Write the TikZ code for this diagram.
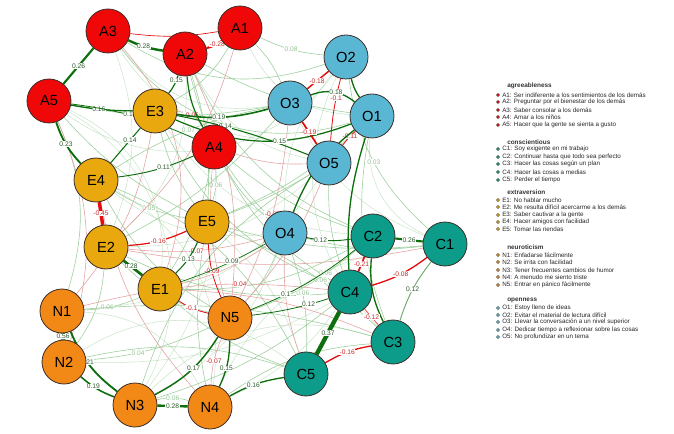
\documentclass[tikz,border=0pt]{standalone}
\usepackage{fontspec}
\setmainfont{Liberation Sans}
\usetikzlibrary{positioning}
\pgfdeclarelayer{bg}
\pgfsetlayers{bg,main}

\definecolor{agreecol}{RGB}{240,8,8}
\definecolor{extracol}{RGB}{232,168,14}
\definecolor{neurocol}{RGB}{242,137,22}
\definecolor{opencol}{RGB}{90,183,212}
\definecolor{conscol}{RGB}{14,156,138}
\definecolor{rimcol}{RGB}{60,45,40}
\definecolor{poscol}{RGB}{12,110,12}
\definecolor{negcol}{RGB}{228,12,12}
\definecolor{fposcol}{RGB}{160,208,160}
\definecolor{fnegcol}{RGB}{228,165,165}

\tikzset{
  item/.style={circle,draw=rimcol,line width=0.6pt,minimum size=33pt,inner sep=0pt,font=\fontsize{11}{11}\selectfont},
  poslink/.style={draw=poscol},
  neglink/.style={draw=negcol},
  fpos/.style={draw=fposcol,line width=0.45pt},
  fneg/.style={draw=fnegcol,line width=0.45pt},
  gpos/.style={draw=fposcol,line width=0.4pt,draw opacity=0.55},
  elab/.style={fill=white,inner sep=0.4pt,font=\fontsize{5}{5}\selectfont,text={rgb,255:red,45;green,90;blue,45}},
  nlab/.style={fill=white,inner sep=0.4pt,font=\fontsize{5}{5}\selectfont,text={rgb,255:red,200;green,40;blue,40}},
  flab/.style={fill=white,inner sep=0.4pt,font=\fontsize{5}{5}\selectfont,text={rgb,255:red,150;green,195;blue,150}},
  lghead/.style={anchor=west,inner sep=0pt,font=\fontsize{4.8}{5}\selectfont\bfseries,text=black!80},
  lgtext/.style={anchor=west,inner sep=0pt,font=\fontsize{4.7}{5}\selectfont,text=black!85},
  lgdot/.style={circle,draw=black!70,line width=0.2pt,minimum size=2.4pt,inner sep=0pt}
}

\begin{document}
\begin{tikzpicture}[x=0.75pt,y=0.75pt,yscale=-1,xscale=1]
\useasboundingbox (0,0) rectangle (674,434);

% agreeableness
\node [item,fill=agreecol] (A1) at (240,28) {A1};
\node [item,fill=agreecol] (A2) at (185,54) {A2};
\node [item,fill=agreecol] (A3) at (108,31) {A3};
\node [item,fill=agreecol] (A4) at (214,147) {A4};
\node [item,fill=agreecol] (A5) at (49,101) {A5};
% extraversion
\node [item,fill=extracol] (E1) at (160,289) {E1};
\node [item,fill=extracol] (E2) at (106,247) {E2};
\node [item,fill=extracol] (E3) at (155,111) {E3};
\node [item,fill=extracol] (E4) at (96,180) {E4};
\node [item,fill=extracol] (E5) at (207,222) {E5};
% neuroticism
\node [item,fill=neurocol] (N1) at (62,311) {N1};
\node [item,fill=neurocol] (N2) at (64,362) {N2};
\node [item,fill=neurocol] (N3) at (135,405) {N3};
\node [item,fill=neurocol] (N4) at (210,407) {N4};
\node [item,fill=neurocol] (N5) at (230,318) {N5};
% openness
\node [item,fill=opencol] (O1) at (372,116) {O1};
\node [item,fill=opencol] (O2) at (346,57) {O2};
\node [item,fill=opencol] (O3) at (290,103) {O3};
\node [item,fill=opencol] (O4) at (285,233) {O4};
\node [item,fill=opencol] (O5) at (329,163) {O5};
% conscientious
\node [item,fill=conscol] (C1) at (445,244) {C1};
\node [item,fill=conscol] (C2) at (373,236) {C2};
\node [item,fill=conscol] (C3) at (393,342) {C3};
\node [item,fill=conscol] (C4) at (350,292) {C4};
\node [item,fill=conscol] (C5) at (306,374) {C5};

\begin{pgfonlayer}{bg}
% weak edges
\draw [gpos] (A3) to[bend left=40] (O1);
\draw [gpos] (A5) to[bend left=45] (O2);
\draw [gpos] (A3) to[bend left=30] (O3);
\draw [gpos] (A5) to[bend right=45] (N3);
\draw [gpos] (A5) to[bend right=35] (E1);
\draw [gpos] (E4) to[bend right=35] (N4);
\draw [gpos] (N1) to[bend right=30] (N4);
\draw [gpos] (N2) to[bend right=35] (C5);
\draw [gpos] (N3) to[bend right=30] (C3);
\draw [gpos] (N4) to[bend right=30] (C1);
\draw [gpos] (O2) to[bend left=35] (C3);
\draw [gpos] (O1) to[bend left=35] (C1);
\draw [gpos] (A1) to[bend left=30] (O1);
\draw [gpos] (A2) to[bend left=25] (O5);
\draw [gpos] (E3) to[bend left=25] (C2);
\draw [gpos] (E4) to[bend left=20] (O4);
\draw [gpos] (E2) to[bend left=20] (O5);
\draw [gpos] (E1) to[bend left=20] (O5);
\draw [gpos] (N1) to[bend left=15] (O4);
\draw [gpos] (N2) to[bend left=15] (C4);
\draw [gpos] (N3) to[bend left=20] (O4);
\draw [gpos] (N4) to[bend left=20] (C2);
\draw [gpos] (A4) to[bend right=20] (N3);
\draw [gpos] (A2) to[bend right=25] (E2);
\draw [gpos] (A3) to[bend right=20] (E2);
\draw [gpos] (O3) to[bend left=20] (C1);
\draw [gpos] (O2) to[bend left=20] (O4);
\draw [gpos] (E5) to[bend right=15] (C5);
\draw [fpos] (A3) to[bend left=35] (O1);
\draw [fpos] (A3) to[bend left=25] (O2);
\draw [fpos] (A1) to[bend left=10] node[flab]{0.08} (O2);
\draw [fpos] (A1) to[bend right=10] (O3);
\draw [fpos] (A1) to[bend right=15] (E3);
\draw [fpos] (A2) to[bend left=10] (O1);
\draw [fpos] (A2) to[bend right=10] (E5);
\draw [fpos] (A2) to[bend left=20] (C2);
\draw [fpos] (A2) to[bend left=15] (O4);
\draw [fpos] (A5) to[bend left=10] (E5);
\draw [fpos] (A5) to[bend right=20] (N1);
\draw [fpos] (A4) to[bend left=10] (C2);
\draw [fpos] (A4) to[bend right=10] node[flab]{0.06} (E5);
\draw [fpos] (A4) to[bend left=15] (C4);
\draw [fpos] (A4) to[bend right=10] (E1);
\draw [fpos] (A4) to[bend left=10] (O4);
\draw [fpos] (E3) to[bend left=10] (E5);
\draw [fpos] (E3) to[bend left=20] (C4);
\draw [fpos] (E4) to[bend left=10] node[flab]{0.05} (E5);
\draw [fpos] (E4) to[bend left=15] (N5);
\draw [fpos] (E4) to[bend right=20] (C5);
\draw [fpos] (E2) to[bend right=15] (N2);
\draw [fpos] (E2) to[bend left=15] node[flab,pos=0.35]{0.05} (N5);
\draw [fpos] (E2) to[bend left=15] (C4);
\draw [fpos] (E1) to[bend left=10] (C5);
\draw [fpos] (E1) to[bend left=15] (C2);
\draw [fpos] (E5) to[bend left=10] (C1);
\draw [fpos] (E5) to[bend right=10] node[flab,pos=0.6]{0.06} (C3);
\draw [fpos] (E5) to[bend left=10] (O1);
\draw [fpos] (E5) to[bend left=5] (O5);
\draw [fpos] (E5) to[bend left=10] (N4);
\draw [fpos] (N1) to[bend left=10] node[flab,pos=0.4]{0.06} (E1);
\draw [fpos] (N1) to[bend right=10] (C3);
\draw [fpos] (N2) to[bend left=10] node[flab,pos=0.4]{0.04} (N5);
\draw [fpos] (N2) to[bend right=15] (C5);
\draw [fpos] (N3) to[bend right=15] node[flab]{0.06} (N4);
\draw [fpos] (N3) to[bend left=10] (C4);
\draw [fpos] (N4) to[bend right=15] (C3);
\draw [fpos] (N5) to[bend left=10] node[flab,pos=0.7]{0.06} (C2);
\draw [fpos] (N5) to[bend left=10] (O4);
\draw [fpos] (O4) to[bend right=10] node[flab,pos=0.4]{0.06} (C5);
\draw [fpos] (O4) to[bend left=10] (C1);
\draw [fpos] (O5) to[bend left=10] (C4);
\draw [fpos] (O5) to[bend left=20] (N3);
\draw [fpos] (O1) to[bend left=15] (C3);
\draw [fpos] (O2) to[bend left=20] node[flab]{0.03} (C1);
\draw [fpos] (O3) to[bend left=10] node[flab]{0.07} (E4);
\draw [fpos] (O3) to[bend right=10] (E2);
\draw [fpos] (A5) to[bend left=10] (O3);
\draw [fneg] (A4) to[bend left=10] (O5);
\draw [fneg] (A1) to[bend right=15] (E2);
\draw [fneg] (E2) to[bend left=10] node[nlab]{-0.07} (O4);
\draw [fneg] (E1) to[bend left=10] (O4);
\draw [fneg] (A4) to[bend left=10] node[nlab]{-0.08} (N5);
\draw [fneg] (N1) to[bend right=10] node[nlab,pos=0.65]{-0.04} (C4);
\draw [fneg] (E4) to[bend left=15] (N4);
\draw [fneg] (A5) to[bend right=20] (N2);
\draw [fneg] (E1) to[bend right=10] (C3);
\draw [fneg] (O3) to[bend right=10] node[nlab]{-0.07} (N5);
\draw [fneg] (O5) to[bend right=10] (N5);
\draw [fneg] (E2) to[bend left=10] (C1);
\draw [fneg] (O4) to[bend left=10] (C5);
\draw [fneg] (E3) to[bend right=30] node[nlab,pos=0.45]{-0.06} (A4);
\draw [fneg] (N5) to[bend left=10] node[nlab]{-0.07} (N4);
\draw [fneg] (A3) to[bend right=30] (E1);
\draw [fneg] (A2) to[bend right=15] (N5);
\draw [fneg] (E3) to[bend right=15] (N1);

% strong edges
\draw [neglink,line width=1.6pt] (A1) to[bend right=10] node[nlab,pos=0.3]{-0.28} (A2);
\draw [poslink,line width=1.8pt] (A3) to[bend left=8] node[elab,pos=0.45]{0.28} (A2);
\draw [neglink,line width=0.5pt] (A3) to[bend left=8] (A1);
\draw [poslink,line width=0.9pt] (A2) to[bend right=10] node[elab,pos=0.25]{0.15} (E3);
\draw [poslink,line width=1.6pt] (A3) to node[elab]{0.26} (A5);
\draw [poslink,line width=1.0pt] (A5) to[bend left=5] node[elab,pos=0.45]{0.16} (E3);
\draw [poslink,line width=0.6pt] (A5) to[bend right=8] node[elab,pos=0.45]{0.1} (A4);
\draw [poslink,line width=1.4pt] (A5) to[bend left=12] node[elab]{0.23} (E4);
\draw [poslink,line width=0.9pt] (A2) to[bend left=12] (A4);
\draw [poslink,line width=1.2pt] (E3) to[bend left=12] node[elab,pos=0.45]{0.19} (O3);
\draw [poslink,line width=0.8pt] (E3) to[bend right=5] node[elab,pos=0.35]{0.14} (O5);
\draw [poslink,line width=0.9pt] (E3) to[bend left=22] node[elab,pos=0.6]{0.15} (O1);
\draw [poslink,line width=0.8pt] (E4) to node[elab,pos=0.65]{0.14} (E3);
\draw [poslink,line width=0.7pt] (E4) to[bend left=8] node[elab,pos=0.6]{0.11} (A4);
\draw [neglink,line width=2.6pt] (E4) to node[nlab]{-0.45} (E2);
\draw [neglink,line width=0.9pt] (E2) to[bend left=10] node[nlab,pos=0.5]{-0.16} (E5);
\draw [poslink,line width=2.0pt] (E2) to node[elab,pos=0.4]{0.28} (E1);
\draw [poslink,line width=0.8pt] (E5) to[bend right=10] node[elab,pos=0.5]{0.13} (E1);
\draw [neglink,line width=0.6pt] (E5) to[bend left=10] node[nlab]{-0.09} (N5);
\draw [neglink,line width=0.6pt] (E1) to[bend left=10] node[nlab,pos=0.45]{-0.1} (N5);
\draw [poslink,line width=3.4pt] (N1) to node[elab]{0.56} (N2);
\draw [poslink,line width=1.4pt] (N1) to[bend left=15] node[elab,pos=0.45]{0.21} (N3);
\draw [poslink,line width=1.2pt] (N2) to[bend left=10] node[elab,pos=0.4]{0.19} (N3);
\draw [poslink,line width=1.1pt] (N5) to[bend right=15] node[elab,pos=0.45]{0.17} (N3);
\draw [poslink,line width=1.8pt] (N3) to node[elab]{0.28} (N4);
\draw [poslink,line width=1.0pt] (N5) to[bend right=12] node[elab,pos=0.6]{0.15} (N4);
\draw [poslink,line width=1.0pt] (N4) to[bend right=10] node[elab,pos=0.45]{0.16} (C5);
\draw [neglink,line width=1.1pt] (O2) to node[nlab,pos=0.55]{-0.18} (O3);
\draw [poslink,line width=1.0pt] (O2) to[bend left=10] (O1);
\draw [neglink,line width=0.6pt] (O2) to[bend left=5] node[nlab,pos=0.3]{-0.1} (O5);
\draw [poslink,line width=1.0pt] (O3) to[bend right=30] node[elab,pos=0.55]{0.18} (O1);
\draw [neglink,line width=1.3pt] (O3) to node[nlab,pos=0.45]{-0.19} (O5);
\draw [neglink,line width=0.6pt] (O1) to[bend left=5] node[nlab,pos=0.4]{-0.11} (O5);
\draw [poslink,line width=1.0pt] (O1) to[bend left=10] (C4);
\draw [poslink,line width=1.0pt] (O4) to[bend right=15] node[elab,pos=0.75]{0.16} (O1);
\draw [poslink,line width=0.7pt] (O4) to[bend left=10] node[elab,pos=0.3]{0.12} (C2);
\draw [poslink,line width=0.6pt] (N5) to[bend left=8] node[elab,pos=0.3]{0.1} (C2);
\draw [poslink,line width=0.6pt] (N5) to[bend left=5] node[elab,pos=0.75]{0.12} (C4);
\draw [poslink,line width=0.5pt] (E1) to[bend left=5] node[elab,pos=0.6]{0.09} (O4);
\draw [poslink,line width=1.6pt] (C2) to node[elab]{0.26} (C1);
\draw [neglink,line width=1.3pt] (C2) to node[nlab]{-0.21} (C4);
\draw [neglink,line width=1.0pt] (C4) to[bend left=10] node[nlab]{-0.08} (C1);
\draw [poslink,line width=1.0pt] (C2) to[bend left=15] (C3);
\draw [poslink,line width=0.7pt,draw opacity=0.6] (C1) to[bend left=10] node[elab]{0.12} (C3);
\draw [poslink,line width=3.2pt] (C4) to node[elab]{0.37} (C5);
\draw [neglink,line width=0.6pt,draw opacity=0.7] (C4) to node[nlab]{-0.12} (C3);
\draw [neglink,line width=1.0pt] (C5) to[bend right=10] node[nlab]{-0.16} (C3);
\end{pgfonlayer}

% Legend
\node [lghead] (hA) at (507,86) {agreeableness};
\node [lgdot,fill=agreecol] (dA1) at (498,95) {};
\node [lgtext] (tA1) at (502,95) {A1: Ser indiferente a los sentimientos de los demás};
\node [lgdot,fill=agreecol] (dA2) at (498,102) {};
\node [lgtext] (tA2) at (502,102) {A2: Preguntar por el bienestar de los demás};
\node [lgdot,fill=agreecol] (dA3) at (498,110) {};
\node [lgtext] (tA3) at (502,110) {A3: Saber consolar a los demás};
\node [lgdot,fill=agreecol] (dA4) at (498,117) {};
\node [lgtext] (tA4) at (502,117) {A4: Amar a los niños};
\node [lgdot,fill=agreecol] (dA5) at (498,125) {};
\node [lgtext] (tA5) at (502,125) {A5: Hacer que la gente se sienta a gusto};

\node [lghead] (hC) at (507,142) {conscientious};
\node [lgdot,fill=conscol] (dC1) at (498,149) {};
\node [lgtext] (tC1) at (502,149) {C1: Soy exigente en mi trabajo};
\node [lgdot,fill=conscol] (dC2) at (498,157) {};
\node [lgtext] (tC2) at (502,157) {C2: Continuar hasta que todo sea perfecto};
\node [lgdot,fill=conscol] (dC3) at (498,164) {};
\node [lgtext] (tC3) at (502,164) {C3: Hacer las cosas según un plan};
\node [lgdot,fill=conscol] (dC4) at (498,172) {};
\node [lgtext] (tC4) at (502,172) {C4: Hacer las cosas a medias};
\node [lgdot,fill=conscol] (dC5) at (498,180) {};
\node [lgtext] (tC5) at (502,180) {C5: Perder el tiempo};

\node [lghead] (hE) at (507,192) {extraversion};
\node [lgdot,fill=extracol] (dE1) at (498,200) {};
\node [lgtext] (tE1) at (502,200) {E1: No hablar mucho};
\node [lgdot,fill=extracol] (dE2) at (498,207) {};
\node [lgtext] (tE2) at (502,207) {E2: Me resulta difícil acercarme a los demás};
\node [lgdot,fill=extracol] (dE3) at (498,215) {};
\node [lgtext] (tE3) at (502,215) {E3: Saber cautivar a la gente};
\node [lgdot,fill=extracol] (dE4) at (498,222) {};
\node [lgtext] (tE4) at (502,222) {E4: Hacer amigos con facilidad};
\node [lgdot,fill=extracol] (dE5) at (498,229) {};
\node [lgtext] (tE5) at (502,229) {E5: Tomar las riendas};

\node [lghead] (hN) at (507,247) {neuroticism};
\node [lgdot,fill=neurocol] (dN1) at (498,255) {};
\node [lgtext] (tN1) at (502,255) {N1: Enfadarse fácilmente};
\node [lgdot,fill=neurocol] (dN2) at (498,262) {};
\node [lgtext] (tN2) at (502,262) {N2: Se irrita con facilidad};
\node [lgdot,fill=neurocol] (dN3) at (498,270) {};
\node [lgtext] (tN3) at (502,270) {N3: Tener frecuentes cambios de humor};
\node [lgdot,fill=neurocol] (dN4) at (498,277) {};
\node [lgtext] (tN4) at (502,277) {N4: A menudo me siento triste};
\node [lgdot,fill=neurocol] (dN5) at (498,285) {};
\node [lgtext] (tN5) at (502,285) {N5: Entrar en pánico fácilmente};

\node [lghead] (hO) at (507,300) {openness};
\node [lgdot,fill=opencol] (dO1) at (498,308) {};
\node [lgtext] (tO1) at (502,308) {O1: Estoy lleno de ideas};
\node [lgdot,fill=opencol] (dO2) at (498,315) {};
\node [lgtext] (tO2) at (502,315) {O2: Evitar el material de lectura difícil};
\node [lgdot,fill=opencol] (dO3) at (498,322) {};
\node [lgtext] (tO3) at (502,322) {O3: Llevar la conversación a un nivel superior};
\node [lgdot,fill=opencol] (dO4) at (498,330) {};
\node [lgtext] (tO4) at (502,330) {O4: Dedicar tiempo a reflexionar sobre las cosas};
\node [lgdot,fill=opencol] (dO5) at (498,337) {};
\node [lgtext] (tO5) at (502,337) {O5: No profundizar en un tema};

\end{tikzpicture}
\end{document}
